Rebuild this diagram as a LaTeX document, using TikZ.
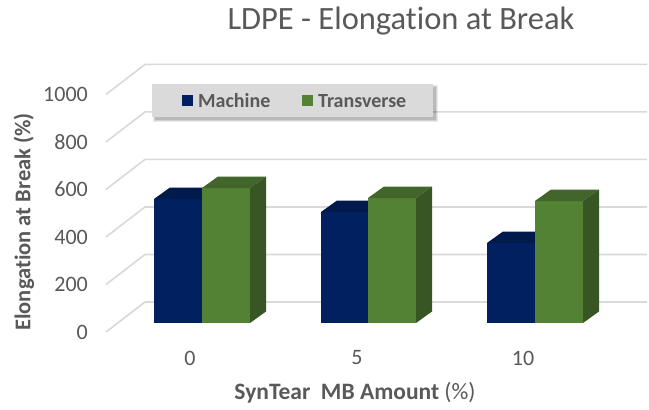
\documentclass[tikz,border=0pt]{standalone}
\usepackage{fontspec}
\setmainfont{Carlito}[Ligatures={TeX,NoCommon}]
\definecolor{txt}{HTML}{595959}
\definecolor{gridc}{HTML}{D9D9D9}
\definecolor{bluef}{HTML}{002060}
\definecolor{bluet}{HTML}{001A4C}
\definecolor{greenf}{HTML}{548235}
\definecolor{greent}{HTML}{41652A}
\definecolor{greens}{HTML}{375623}
\definecolor{legbg}{HTML}{DADADA}
\tikzset{
  gridline/.style={draw=gridc, line width=1.6pt},
  ticklab/.style={text=txt, font=\fontsize{22}{22}\selectfont, anchor=east, inner sep=0pt},
  catlab/.style={text=txt, font=\fontsize{22}{22}\selectfont, inner sep=0pt},
  legtext/.style={text=txt, font=\fontsize{20}{20}\selectfont\bfseries, anchor=west, inner sep=0pt},
}
% x1, x2, ytop, front colour, top colour, side colour
\newcommand{\drawbar}[6]{%
  \fill[#4] (#1,#3) rectangle (#2,323);
  \fill[#5] (#1,#3) -- (#2,#3) -- (#2+16,#3-11.5) -- (#1+16,#3-11.5) -- cycle;
  \fill[#6] (#2,#3) -- (#2+16,#3-11.5) -- (#2+16,311.5) -- (#2,323) -- cycle;
}
\begin{document}
\begin{tikzpicture}[x=1pt,y=-1pt]
\useasboundingbox (0,0) rectangle (649,410);
\fill[white] (0,0) rectangle (649,410);
% title
\node[text=txt, font=\fontsize{32.5}{32.5}\selectfont] (title) at (401,21) {LDPE - Elongation at Break};
% grid
\foreach \v in {0,200,...,1000}{
  \pgfmathsetmacro{\yb}{302-\v*0.2376}
  \pgfmathsetmacro{\yf}{\yb+30}
  \draw[gridline] (106,\yf) -- (145,\yb) -- (647,\yb);
  \node[ticklab] (tick\v) at (88,\yf) {\v};
}
% legend
\fill[black,opacity=0.08] (153,85) rectangle (438,122);
\fill[black,opacity=0.10] (154,86) rectangle (437,121);
\fill[black,opacity=0.12] (155,87) rectangle (436,120);
\fill[legbg] (152,84) rectangle (433,117);
\fill[bluef] (182,95) rectangle (193,106);
\node[legtext] (legm) at (198,101) {Machine};
\fill[greenf] (302,95) rectangle (313,106);
\node[legtext] (legt) at (318,101) {Transverse};
% bars
\drawbar{154}{202}{199}{bluef}{bluet}{bluet}
\drawbar{202}{250}{188}{greenf}{greent}{greens}
\drawbar{321}{368}{212}{bluef}{bluet}{bluet}
\drawbar{368}{416}{198}{greenf}{greent}{greens}
\drawbar{487}{535}{243}{bluef}{bluet}{bluet}
\drawbar{535}{583}{201}{greenf}{greent}{greens}
% category labels
\node[catlab] (c0) at (190,358) {0};
\node[catlab] (c5) at (357,358) {5};
\node[catlab] (c10) at (523,358) {10};
% axis titles
\node[text=txt, font=\fontsize{23.5}{23.5}\selectfont] (xt) at (355,393) {\textbf{SynTear\ \ MB Amount} (\%)};
\node[text=txt, font=\fontsize{22.5}{22.5}\selectfont\bfseries, rotate=90] (yt) at (24,222) {Elongation at Break (\%)};
\end{tikzpicture}
\end{document}
